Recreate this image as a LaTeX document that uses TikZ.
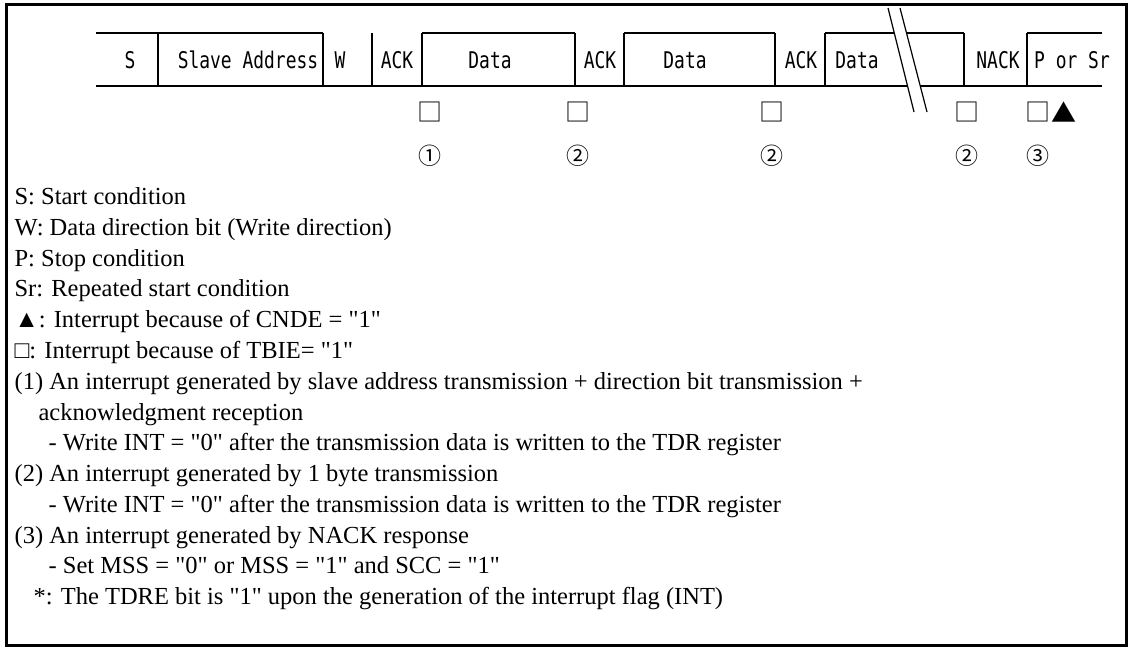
\documentclass[tikz,border=0pt]{standalone}
\usepackage{fontspec}
\setmainfont{Liberation Serif}[Ligatures=TeXOff]
\newfontfamily\fieldfont[FakeStretch=0.78]{DejaVu Sans Mono}
\newfontfamily\symfont{Noto Sans CJK JP}
\usetikzlibrary{positioning}

\tikzset{
  field/.style={anchor=base,inner sep=0pt,font=\fieldfont\fontsize{23}{23}\selectfont},
  intsym/.style={inner sep=0pt,font=\symfont\fontsize{25}{25}\selectfont},
  circnum/.style={inner sep=0pt,font=\symfont\fontsize{23}{23}\selectfont},
  note/.style={anchor=base west,inner sep=0pt,font=\fontsize{24.5}{24.5}\selectfont}
}

\begin{document}
\begin{tikzpicture}[x=1pt,y=-1pt,line width=1.2pt]
\useasboundingbox (0,0) rectangle (1131,650);
% Outer frame
\draw[line width=3pt] (6,5) rectangle (1126,645);

% Frame format: top edge of the master fields
\draw (96,33) -- (323,33);
\draw (422,33) -- (575,33);
\draw (624,33) -- (775,33);
\draw (825,33) -- (894,33);
\draw (906,33) -- (964,33);
\draw (1027,33) -- (1102,33);
% bottom edge
\draw (96,86) -- (907,86);
\draw (920,86) -- (1102,86);
% field boundaries
\foreach \x in {158,323,372,422,575,624,775,825,964,1027} {
  \draw (\x,33) -- (\x,86);
}
% break mark
\draw (888,8) -- (914,112);
\draw (900,8) -- (927,112);

% Field labels
\node[field] (fs) at (130,69) {S};
\node[field] (fsa) at (248,69) {Slave Address};
\node[field] (fw) at (340,69) {W};
\node[field] (fack1) at (397,69) {ACK};
\node[field] (fd1) at (490,69) {Data};
\node[field] (fack2) at (600,69) {ACK};
\node[field] (fd2) at (685,69) {Data};
\node[field] (fack3) at (801,69) {ACK};
\node[field] (fd3) at (857,69) {Data};
\node[field] (fnack) at (998,69) {NACK};
\node[field] (fpsr) at (1072,69) {P or Sr};

% Interrupt points
\foreach \x/\n [count=\i] in {430/①,578/②,772/②,967/②,1038/③} {
  \node[intsym] (sq\i) at (\x,112) {□};
  \node[circnum] (num\i) at (\x,156) {\n};
}
\node[intsym,right=0pt of sq5] (tri) {▲};

% Legend and notes
\node[note] (l1) at (14,204) {S: Start condition};
\node[note] (l2) at (14,235) {W: Data direction bit (Write direction)};
\node[note] (l3) at (14,266) {P: Stop condition};
\node[note] (l4) at (14,296) {Sr: Repeated start condition};
\node[note] (l5) at (14,327) {▲: Interrupt because of CNDE = "1"};
\node[note] (l6) at (14,358) {□: Interrupt because of TBIE= "1"};
\node[note] (l7) at (14,389) {(1) An interrupt generated by slave address transmission + direction bit transmission +};
\node[note] (l8) at (38,420) {acknowledgment reception};
\node[note] (l9) at (48,450) {- Write INT = "0" after the transmission data is written to the TDR register};
\node[note] (l10) at (14,481) {(2) An interrupt generated by 1 byte transmission};
\node[note] (l11) at (48,512) {- Write INT = "0" after the transmission data is written to the TDR register};
\node[note] (l12) at (14,543) {(3) An interrupt generated by NACK response};
\node[note] (l13) at (48,573) {- Set MSS = "0" or MSS = "1" and SCC = "1"};
\node[note] (l14) at (33,604) {*: The TDRE bit is "1" upon the generation of the interrupt flag (INT)};
\end{tikzpicture}
\end{document}
